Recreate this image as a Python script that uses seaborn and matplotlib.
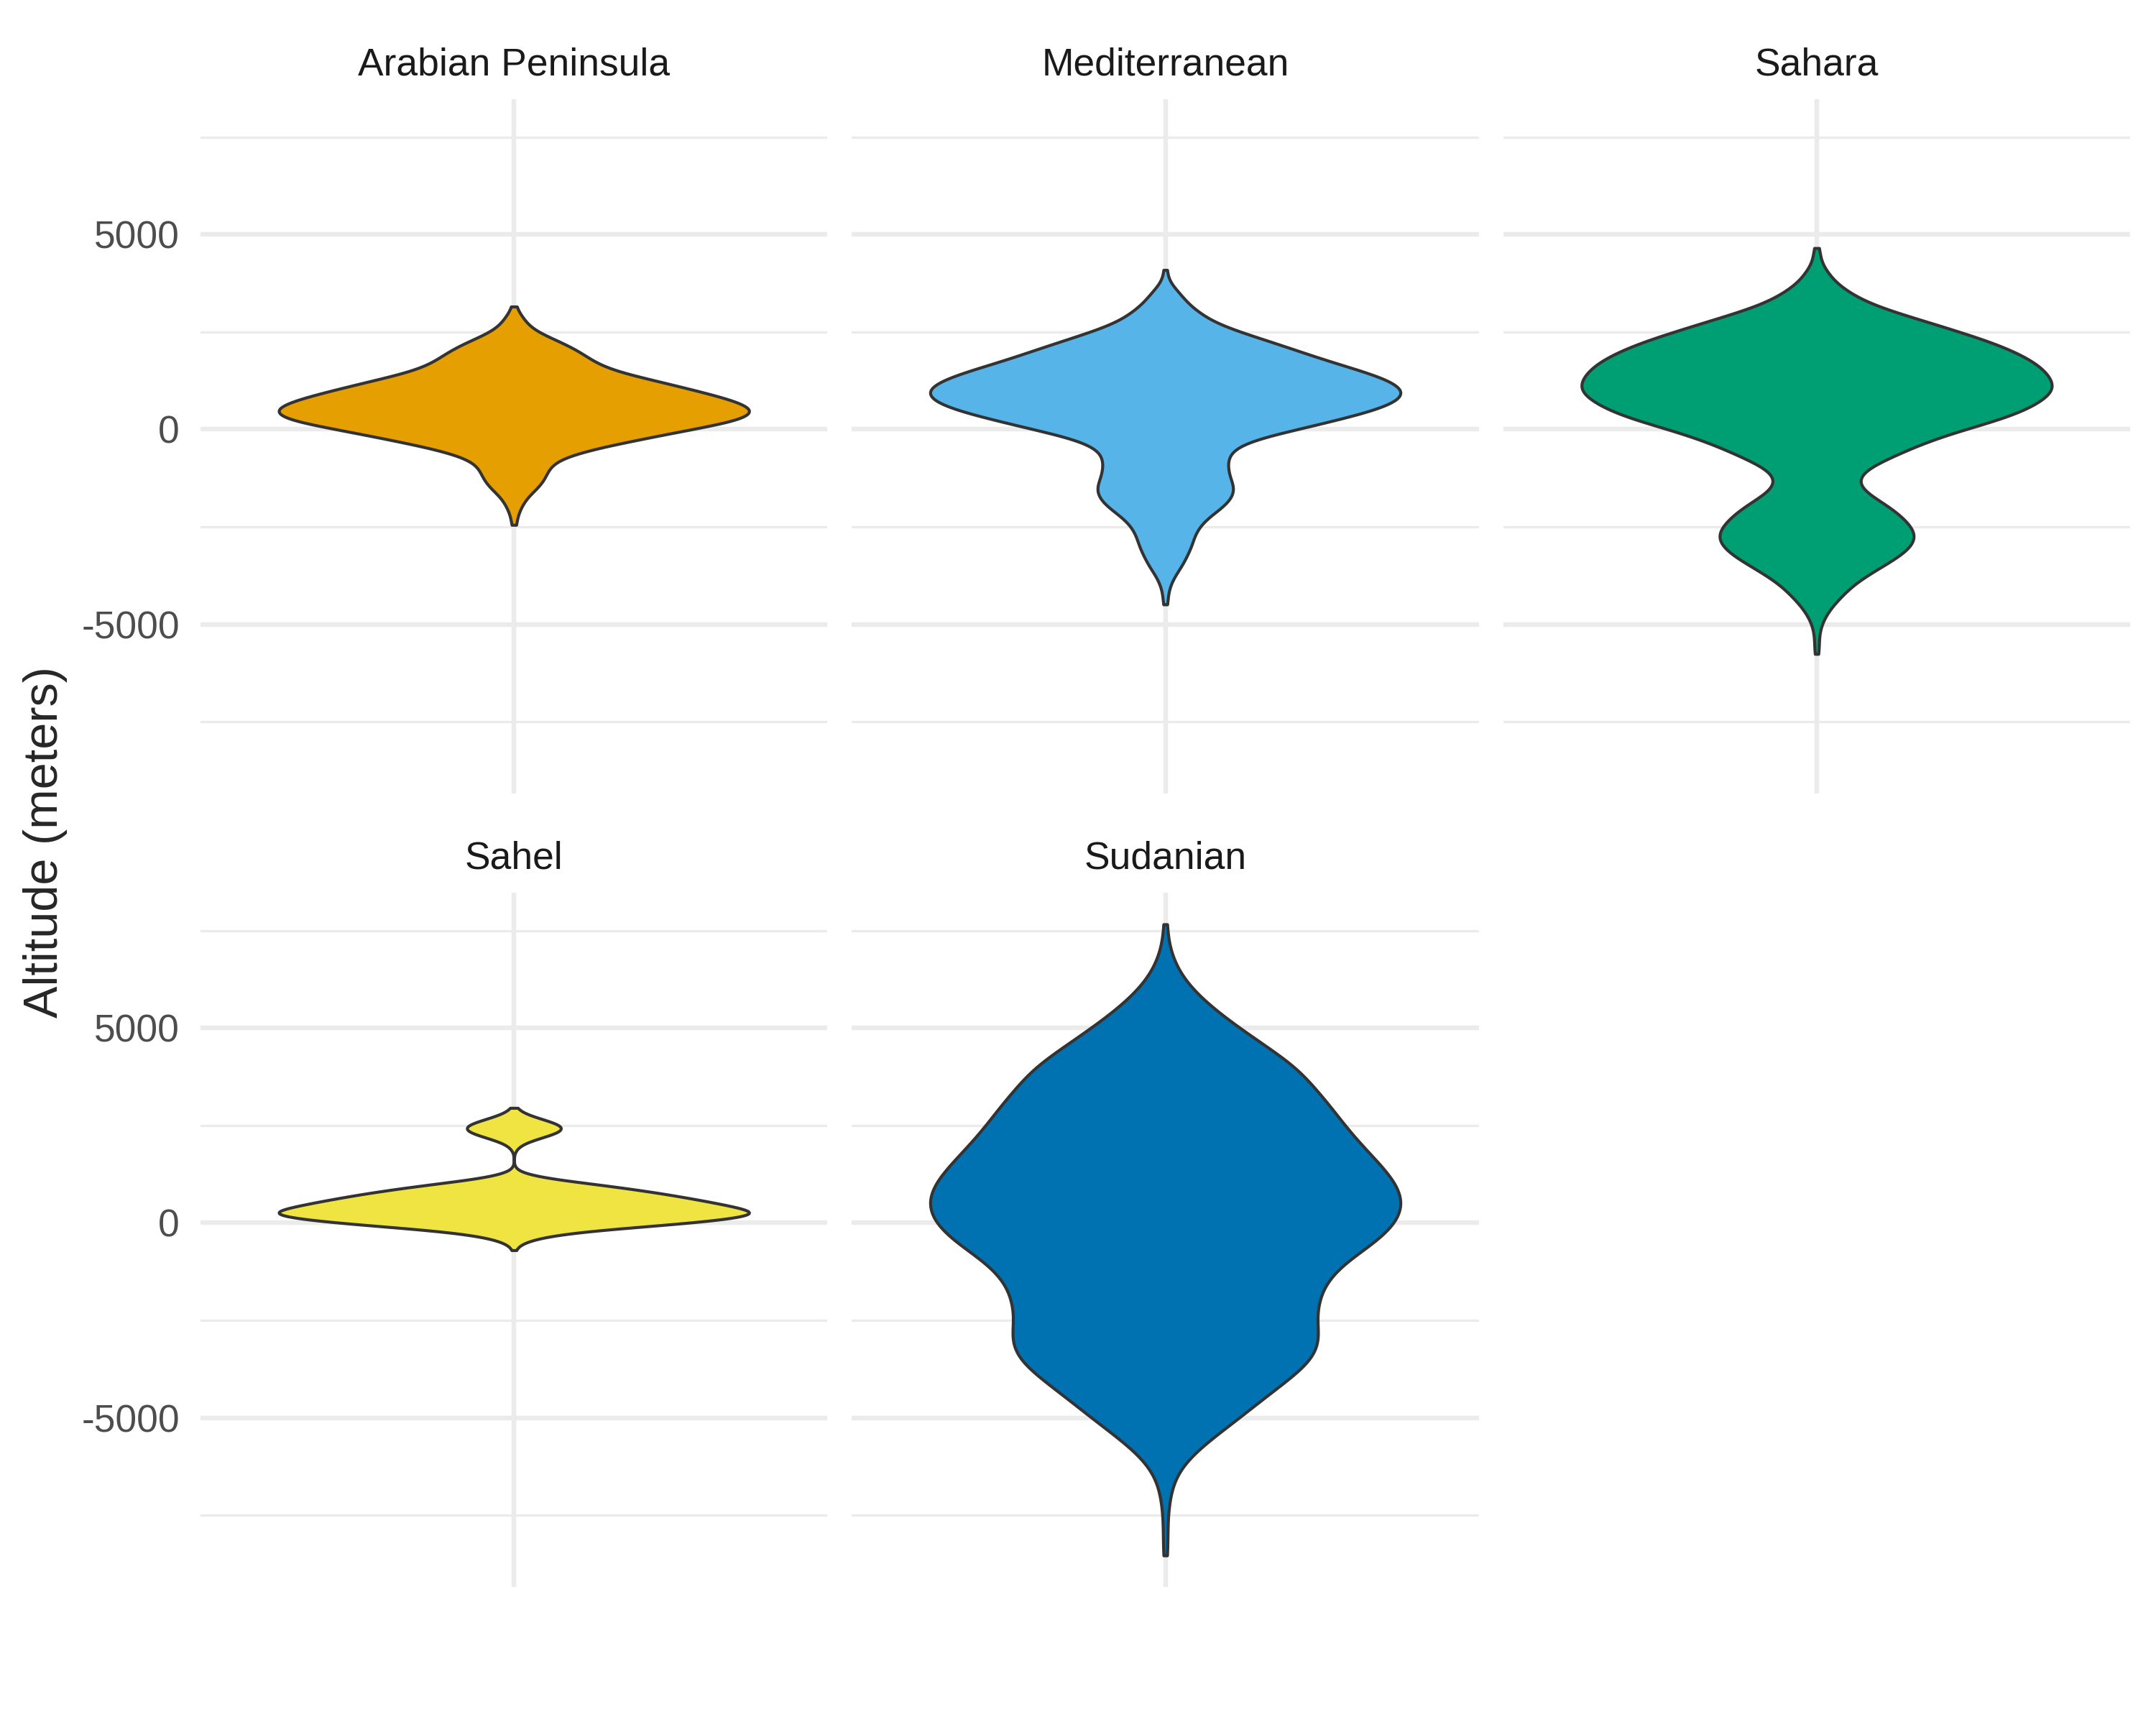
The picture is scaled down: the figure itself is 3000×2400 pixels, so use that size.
import numpy as np
import pandas as pd
import matplotlib
matplotlib.use("Agg")
import matplotlib.pyplot as plt
from matplotlib.ticker import FixedLocator
import seaborn as sns

regions = ["Arabian Peninsula", "Mediterranean", "Sahara", "Sahel", "Sudanian"]
region_colors = ["#E69F00", "#56B4E9", "#009E73", "#F0E442", "#0072B2"]

# altitude (m) and how many sites sit there
arabian_alt = [3150, 2900, 2750, 2500, 2250, 2000, 1750, 1500, 1250, 1000, 750, 500,
               250, 0, -250, -500, -750, -1000, -1250, -1500, -1750, -2000, -2250, -2450]
arabian_n = [1, 2, 4, 9, 19, 27, 32, 40, 58, 74, 90, 100,
             95, 72, 52, 32, 18, 14, 13, 10, 5, 3, 1, 1]

med_alt = [4090, 3750, 3500, 3250, 3000, 2750, 2500, 2250, 2000, 1750, 1500, 1250,
           1000, 750, 500, 250, 0, -250, -500, -750, -1000, -1250, -1500, -1750,
           -2000, -2250, -2500, -2750, -3000, -3250, -3500, -3750, -4000, -4250, -4490]
med_n = [1, 2, 6, 9, 14, 20, 31, 44, 56, 68, 82, 94,
         100, 98, 88, 72, 55, 37, 28, 26, 26, 27, 29, 28,
         24, 18, 14, 12, 11, 9, 7, 4, 2, 1, 1]

sahara_alt = [4650, 4500, 4250, 4000, 3750, 3500, 3250, 3000, 2750, 2500, 2250, 2000,
              1750, 1500, 1250, 1000, 750, 500, 250, 0, -250, -500, -750, -1000,
              -1250, -1500, -1750, -2000, -2250, -2500, -2750, -3000, -3250, -3500,
              -3750, -4000, -4250, -4500, -4750, -5000, -5250, -5500, -5760]
sahara_n = [1, 1, 2, 5, 8, 14, 21, 33, 47, 60, 73, 83,
            91, 96, 99, 100, 95, 88, 77, 62, 49, 39, 30, 21,
            17, 18, 24, 31, 36, 40, 42, 40, 35, 28,
            21, 15, 11, 7, 4, 2, 1, 1, 1]

sahel_alt = [2950, 2800, 2650, 2500, 2350, 2200, 2050, 1900, 1300, 1150, 1000, 850,
             700, 550, 400, 250, 100, -50, -200, -350, -500, -700]
sahel_n = [1, 4, 12, 20, 20, 12, 4, 1, 2, 12, 32, 50,
           65, 78, 90, 100, 88, 62, 30, 12, 4, 1]

sudan_alt = [7660, 7000, 6500, 6000, 5500, 5000, 4500, 4000, 3500, 3000, 2500, 2000,
             1500, 1000, 500, 0, -500, -1000, -1500, -2000, -2500, -3000, -3500, -4000,
             -4500, -5000, -5500, -6000, -6500, -7000, -7500, -8000, -8530]
sudan_n = [1, 2, 5, 11, 20, 31, 43, 55, 62, 69, 75, 82,
           90, 97, 100, 97, 88, 75, 67, 64, 63, 65, 62, 52,
           41, 31, 20, 10, 4, 2, 1, 1, 1]

alts = [arabian_alt, med_alt, sahara_alt, sahel_alt, sudan_alt]
counts = [arabian_n, med_n, sahara_n, sahel_n, sudan_n]

# kernel bandwidth in metres for each panel
kde_bw = {"Arabian Peninsula": 190, "Mediterranean": 190, "Sahara": 210,
          "Sahel": 110, "Sudanian": 380}

df = pd.concat(
    [pd.DataFrame({"region": r, "altitude": np.repeat(a, n)})
     for r, a, n in zip(regions, alts, counts)],
    ignore_index=True,
)

sns.set_theme(style="white")
plt.rcParams["font.family"] = ["Liberation Sans", "DejaVu Sans"]
plt.rcParams["axes.unicode_minus"] = False

lo, hi = df.altitude.min(), df.altitude.max()
pad = 0.05 * (hi - lo)

fig, axes = plt.subplots(2, 3, figsize=(10, 8), sharey=True)
fig.subplots_adjust(left=0.093, right=0.988, top=0.9425, bottom=0.08,
                    wspace=0.039, hspace=0.143)

for ax, r, c in zip(axes.flat, regions, region_colors):
    sub = df[df.region == r]
    sns.violinplot(
        data=sub, y="altitude", ax=ax, color=c, saturation=1, cut=0,
        inner=None, bw_method=kde_bw[r] / sub.altitude.std(),
        density_norm="width", width=0.9, linecolor="#333333",
        linewidth=1.0, gridsize=400,
    )
    ax.set_xlim(-0.6, 0.6)
    ax.set_ylim(lo - pad, hi + pad)
    ax.set_xticks([0])
    ax.set_xticklabels([])
    ax.yaxis.set_major_locator(FixedLocator([-5000, 0, 5000]))
    ax.yaxis.set_minor_locator(FixedLocator([-7500, -2500, 2500, 7500]))
    ax.grid(which="major", color="#EBEBEB", linewidth=1.55)
    ax.grid(which="minor", axis="y", color="#EBEBEB", linewidth=0.78)
    ax.set_axisbelow(True)
    for s in ax.spines.values():
        s.set_visible(False)
    ax.tick_params(which="both", length=0, labelsize=12.8,
                   labelcolor="#4D4D4D", pad=7)
    ax.set_xlabel("")
    ax.set_ylabel("")
    ax.set_title(r, fontsize=12.8, color="#1A1A1A", pad=8)

axes[1, 2].axis("off")

fig.text(0.021, 0.512, "Altitude (meters)", rotation=90, fontsize=16,
         ha="center", va="center")

fig.savefig("out.png", dpi=300, facecolor="white")
